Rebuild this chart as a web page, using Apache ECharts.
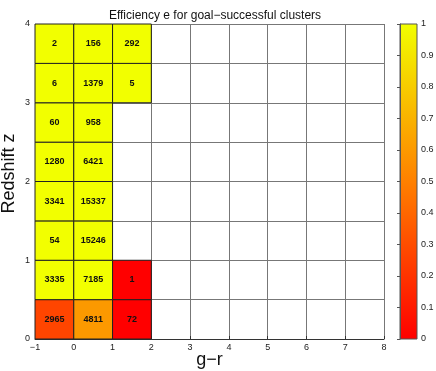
<!DOCTYPE html>
<html>
<head>
<meta charset="utf-8">
<script src="https://cdn.jsdelivr.net/npm/echarts@6/dist/echarts.min.js"></script>
<style>
  html, body { margin: 0; padding: 0; background: #fff; }
  #chart { width: 436px; height: 371px; }
</style>
</head>
<body>
<div id="chart"></div>
<script>
// cell lower-left corners (g-r, z), counts and efficiency
var cellX = [-1, 0, 1, -1, 0, 1, -1, 0, -1, 0, -1, 0, -1, 0, -1, 0, 1, -1, 0, 1];
var cellY = [0, 0, 0, 0.5, 0.5, 0.5, 1, 1, 1.5, 1.5, 2, 2, 2.5, 2.5, 3, 3, 3, 3.5, 3.5, 3.5];
var cellCount = [2965, 4811, 72, 3335, 7185, 1, 54, 15246, 3341, 15337, 1280, 6421, 60, 958, 6, 1379, 5, 2, 156, 292];
var cellEff = [0.27, 0.6, 0, 1, 1, 0, 1, 1, 1, 1, 1, 1, 1, 1, 1, 1, 1, 1, 1, 1];

var colorStops = ['#ff0000', '#ff8000', '#f2ff00'];

var cells = cellX.map(function (x, i) {
  return [x, cellY[i], cellCount[i], cellEff[i]];
});

var chart = echarts.init(document.getElementById('chart'));
var font = 'Liberation Sans, Arial, sans-serif';

chart.setOption({
  animation: false,
  textStyle: { fontFamily: font },
  title: {
    text: 'Efficiency e for goal\u2212successful clusters',
    left: 210,
    textAlign: 'center',
    top: 5,
    textStyle: { fontSize: 12, fontWeight: 'normal', color: '#111', fontFamily: font }
  },
  grid: [
    { left: 35, right: 52, top: 24, bottom: 32, show: false, outerBoundsMode: 'none' },
    {
      left: 400, width: 17, top: 24, height: 315, show: true, outerBoundsMode: 'none',
      borderColor: '#555', borderWidth: 1,
      backgroundColor: new echarts.graphic.LinearGradient(0, 0, 0, 1, [
        { offset: 0, color: colorStops[2] },
        { offset: 0.5, color: colorStops[1] },
        { offset: 1, color: colorStops[0] }
      ])
    }
  ],
  visualMap: {
    show: false,
    seriesIndex: 0,
    dimension: 3,
    min: 0,
    max: 1,
    inRange: { color: colorStops }
  },
  xAxis: [
    {
      type: 'value', min: -1, max: 8, interval: 1,
      name: 'g\u2212r', nameLocation: 'middle', nameGap: 12, nameMoveOverlap: false,
      nameTextStyle: { fontSize: 18, color: '#111' },
      axisLine: { show: true, lineStyle: { color: '#333' } },
      axisTick: { show: true, inside: true, length: 3, lineStyle: { color: '#333' } },
      axisLabel: {
        fontSize: 9, color: '#222', margin: 4,
        formatter: function (v) { return v < 0 ? '\u2212' + (-v) : String(v); }
      },
      splitLine: { show: true, lineStyle: { color: '#777', width: 1 } }
    },
    { gridIndex: 1, type: 'value', min: 0, max: 1, show: false }
  ],
  yAxis: [
    {
      type: 'value', min: 0, max: 4, interval: 0.5,
      name: 'Redshift z', nameLocation: 'middle', nameGap: 17, nameRotate: 90, nameMoveOverlap: false,
      nameTextStyle: { fontSize: 18, color: '#111', padding: [0, 0, 0, 16] },
      axisLine: { show: true, lineStyle: { color: '#333' } },
      axisTick: { show: false },
      axisLabel: {
        fontSize: 9, color: '#222', margin: 5,
        formatter: function (v) { return v % 1 === 0 ? String(v) : ''; }
      },
      splitLine: { show: true, lineStyle: { color: '#777', width: 1 } }
    },
    {
      gridIndex: 1, type: 'value', min: 0, max: 1, interval: 0.1, position: 'right',
      axisLine: { show: true, lineStyle: { color: '#555' } },
      axisTick: { show: true, inside: true, length: 3, lineStyle: { color: '#555' } },
      axisLabel: { fontSize: 9, color: '#222', margin: 4 },
      splitLine: { show: false }
    }
  ],
  series: [
    {
      type: 'custom',
      xAxisIndex: 0,
      yAxisIndex: 0,
      data: cells,
      renderItem: function (params, api) {
        var x = api.value(0), y = api.value(1);
        var p0 = api.coord([x, y + 0.5]);
        var p1 = api.coord([x + 1, y]);
        return {
          type: 'group',
          children: [
            {
              type: 'rect',
              shape: { x: p0[0], y: p0[1], width: p1[0] - p0[0], height: p1[1] - p0[1] },
              style: { fill: api.visual('color'), stroke: '#222', lineWidth: 1 }
            },
            {
              type: 'text',
              style: {
                text: String(api.value(2)),
                x: (p0[0] + p1[0]) / 2,
                y: (p0[1] + p1[1]) / 2,
                align: 'center',
                verticalAlign: 'middle',
                fontSize: 9,
                fontWeight: 'bold',
                fontFamily: font,
                fill: '#111'
              }
            }
          ]
        };
      }
    }
  ]
});
</script>
</body>
</html>
